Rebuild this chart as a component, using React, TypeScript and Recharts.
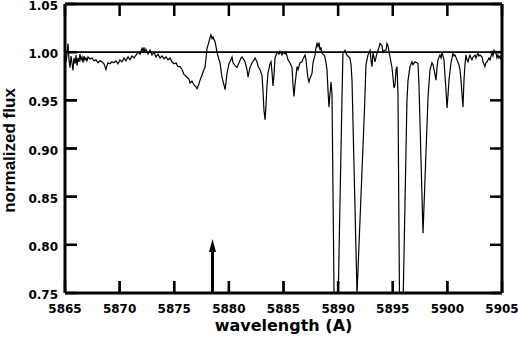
import React from 'react';
import { LineChart, Line, XAxis, YAxis, ReferenceLine, Label } from 'recharts';

const wavelength = [
  5865.00, 5865.09, 5865.18, 5865.27, 5865.37, 5865.46, 5865.55, 5865.64, 5865.73, 5865.82,
  5865.92, 5866.01, 5866.10, 5866.19, 5866.28, 5866.37, 5866.46, 5866.56, 5866.65, 5866.74,
  5866.83, 5866.92, 5867.01, 5867.11, 5867.29, 5867.47, 5867.65, 5867.84, 5868.02, 5868.20,
  5868.39, 5868.57, 5868.75, 5868.84, 5868.94, 5869.12, 5869.30, 5869.48, 5869.67, 5869.85,
  5870.03, 5870.22, 5870.40, 5870.58, 5870.77, 5870.95, 5871.13, 5871.32, 5871.50, 5871.68,
  5871.86, 5872.05, 5872.14, 5872.23, 5872.32, 5872.41, 5872.60, 5872.78, 5872.96, 5873.15,
  5873.33, 5873.51, 5873.70, 5873.88, 5874.06, 5874.24, 5874.43, 5874.61, 5874.79, 5874.98,
  5875.16, 5875.34, 5875.53, 5875.71, 5875.89, 5876.08, 5876.17, 5876.35, 5876.44, 5876.62,
  5876.81, 5876.99, 5877.08, 5877.26, 5877.36, 5877.54, 5877.72, 5877.81, 5877.91, 5878.00,
  5878.18, 5878.27, 5878.36, 5878.46, 5878.55, 5878.64, 5878.73, 5878.82, 5878.91, 5879.10,
  5879.19, 5879.37, 5879.55, 5879.65, 5879.74, 5879.83, 5880.01, 5880.19, 5880.29, 5880.38,
  5880.56, 5880.74, 5880.93, 5881.11, 5881.20, 5881.38, 5881.48, 5881.66, 5881.75, 5881.93,
  5882.12, 5882.30, 5882.39, 5882.57, 5882.67, 5882.85, 5883.03, 5883.12, 5883.21, 5883.31,
  5883.40, 5883.49, 5883.58, 5883.76, 5883.86, 5883.95, 5884.04, 5884.13, 5884.22, 5884.41,
  5884.59, 5884.68, 5884.86, 5884.95, 5885.14, 5885.23, 5885.41, 5885.59, 5885.78, 5885.87,
  5885.96, 5886.05, 5886.24, 5886.33, 5886.51, 5886.69, 5886.78, 5886.97, 5887.06, 5887.15,
  5887.24, 5887.33, 5887.43, 5887.61, 5887.70, 5887.88, 5887.97, 5888.07, 5888.16, 5888.25,
  5888.34, 5888.43, 5888.52, 5888.71, 5888.79, 5888.89, 5888.98, 5889.07, 5889.16, 5889.25,
  5889.35, 5889.44, 5889.76, 5890.35, 5890.44, 5890.63, 5890.81, 5891.08, 5891.18, 5891.27,
  5891.73, 5892.41, 5892.55, 5892.73, 5892.92, 5893.01, 5893.10, 5893.19, 5893.37, 5893.56,
  5893.74, 5893.83, 5894.01, 5894.11, 5894.20, 5894.38, 5894.47, 5894.56, 5894.75, 5894.93,
  5895.02, 5895.11, 5895.21, 5895.30, 5895.39, 5895.48, 5895.71, 5896.30, 5896.40, 5896.58,
  5896.76, 5896.85, 5897.04, 5897.22, 5897.31, 5897.40, 5897.77, 5898.23, 5898.41, 5898.59,
  5898.69, 5898.78, 5898.96, 5899.05, 5899.14, 5899.32, 5899.42, 5899.51, 5899.60, 5899.69,
  5899.78, 5899.87, 5899.97, 5900.06, 5900.15, 5900.33, 5900.51, 5900.61, 5900.70, 5900.88,
  5901.06, 5901.15, 5901.25, 5901.34, 5901.43, 5901.52, 5901.61, 5901.70, 5901.80, 5901.89,
  5901.98, 5902.07, 5902.16, 5902.25, 5902.35, 5902.53, 5902.62, 5902.80, 5902.89, 5902.99,
  5903.17, 5903.26, 5903.44, 5903.53, 5903.63, 5903.81, 5903.90, 5904.08, 5904.17, 5904.27,
  5904.36, 5904.45, 5904.54, 5904.63, 5904.72, 5904.82, 5904.91,
];

const flux = [
  0.995, 0.990, 0.997, 1.009, 0.992, 0.984, 0.996, 0.989, 0.981, 0.994,
  0.988, 0.997, 0.986, 0.994, 0.990, 0.998, 0.992, 0.995, 0.989, 0.996,
  0.992, 0.994, 0.991, 0.995, 0.993, 0.994, 0.991, 0.992, 0.989, 0.991,
  0.990, 0.988, 0.982, 0.986, 0.989, 0.988, 0.990, 0.989, 0.991, 0.988,
  0.992, 0.990, 0.994, 0.991, 0.995, 0.992, 0.996, 0.994, 0.997, 1.000,
  0.998, 1.004, 1.001, 1.005, 0.999, 1.003, 0.998, 1.002, 0.997, 1.000,
  0.995, 0.998, 0.994, 0.996, 0.993, 0.995, 0.992, 0.994, 0.990, 0.988,
  0.989, 0.985, 0.985, 0.982, 0.977, 0.975, 0.974, 0.972, 0.968, 0.970,
  0.966, 0.964, 0.962, 0.967, 0.971, 0.976, 0.982, 0.984, 0.994, 1.004,
  1.011, 1.015, 1.018, 1.014, 1.016, 1.013, 1.011, 1.006, 1.000, 0.992,
  0.989, 0.974, 0.966, 0.961, 0.969, 0.978, 0.988, 0.992, 0.995, 0.989,
  0.986, 0.984, 0.989, 0.994, 0.995, 0.992, 0.990, 0.982, 0.974, 0.984,
  0.989, 0.992, 0.994, 0.990, 0.985, 0.982, 0.976, 0.961, 0.940, 0.930,
  0.945, 0.966, 0.978, 0.988, 0.990, 0.979, 0.965, 0.976, 0.994, 1.000,
  0.998, 1.001, 0.997, 1.000, 0.998, 1.000, 0.992, 0.989, 0.984, 0.966,
  0.954, 0.966, 0.985, 0.982, 0.989, 0.990, 0.993, 0.997, 0.992, 0.982,
  0.973, 0.969, 0.973, 0.978, 0.989, 0.997, 1.004, 1.009, 1.006, 1.010,
  1.002, 1.005, 0.999, 0.997, 0.995, 0.989, 0.982, 0.961, 0.943, 0.956,
  0.969, 0.956, 0.600, 0.950, 0.999, 1.002, 0.997, 0.994, 0.987, 0.971,
  0.749, 0.940, 0.987, 0.997, 1.002, 0.992, 0.985, 1.000, 0.990, 0.999,
  1.005, 1.009, 1.007, 0.999, 1.002, 1.002, 1.009, 1.007, 0.995, 0.984,
  0.974, 0.963, 0.966, 0.982, 0.985, 0.956, 0.600, 0.950, 0.971, 0.985,
  0.990, 0.987, 0.990, 0.989, 0.988, 0.966, 0.812, 0.954, 0.982, 0.989,
  0.987, 0.982, 0.971, 0.984, 0.992, 0.997, 0.994, 1.000, 0.996, 0.992,
  0.976, 0.961, 0.942, 0.956, 0.971, 0.989, 0.999, 0.996, 0.997, 0.992,
  0.987, 0.982, 0.971, 0.956, 0.943, 0.971, 0.987, 0.997, 0.992, 0.990,
  0.994, 0.997, 0.994, 0.992, 0.995, 0.997, 0.994, 0.999, 0.996, 0.997,
  0.995, 0.990, 0.985, 0.989, 0.990, 0.994, 0.992, 0.999, 0.996, 1.002,
  1.000, 0.999, 0.994, 0.997, 0.994, 0.996, 0.992,
];

const xTicks = [5865, 5870, 5875, 5880, 5885, 5890, 5895, 5900, 5905];
const yTicks = [0.75, 0.8, 0.85, 0.9, 0.95, 1.0, 1.05];
const xDomain = [5865, 5905];
const yDomain = [0.75, 1.05];
const continuumLevel = 1.0;
const arrowWavelength = 5878.5;
const arrowBase = 0.75;
const arrowTip = 0.806;
const xTitle = 'wavelength (A)';
const yTitle = 'normalized flux';

const data = wavelength.map((wl, i) => ({ wl, flux: flux[i] }));

const TICK_FONT = { fontFamily: '"DejaVu Sans", sans-serif', fontWeight: 700, fontSize: 12, fill: '#000' };
const TICK_LEN = 12;
const TICK_W = 2.5;

const BottomTick = (p: any) => (
  <text x={p.x} y={p.y + TICK_LEN + 20} textAnchor="middle" style={TICK_FONT}>{p.payload.value}</text>
);
const LeftTick = (p: any) => (
  <text x={p.x - TICK_LEN - 7} y={p.y + 6} textAnchor="end" style={TICK_FONT}>{Number(p.payload.value).toFixed(2)}</text>
);

// Inward tick marks as filled rectangles at both ends of each tick position
const XTickMarks = (p: any) => {
  const x = p.x1;
  const top = Math.min(p.y1, p.y2);
  const bottom = Math.max(p.y1, p.y2);
  return (
    <g>
      <rect x={x - TICK_W / 2} y={bottom - TICK_LEN} width={TICK_W} height={TICK_LEN} fill="#000" />
      <rect x={x - TICK_W / 2} y={top} width={TICK_W} height={TICK_LEN} fill="#000" />
    </g>
  );
};
const YTickMarks = (p: any) => {
  const y = p.y1;
  const left = Math.min(p.x1, p.x2);
  const right = Math.max(p.x1, p.x2);
  return (
    <g>
      <rect x={left} y={y - TICK_W / 2} width={TICK_LEN} height={TICK_W} fill="#000" />
      <rect x={right - TICK_LEN} y={y - TICK_W / 2} width={TICK_LEN} height={TICK_W} fill="#000" />
    </g>
  );
};

const ArrowShape = (p: any) => {
  const x = p.x1;
  const top = Math.min(p.y1, p.y2);
  const bottom = Math.max(p.y1, p.y2);
  return (
    <g>
      <line x1={x} y1={bottom} x2={x} y2={top + 8} stroke="#000" strokeWidth={3} />
      <polygon points={`${x},${top} ${x - 3.5},${top + 13} ${x + 3.5},${top + 13}`} fill="#000" />
    </g>
  );
};

const XTitle = (p: any) => {
  const vb = p.viewBox;
  return (
    <text x={vb.x + vb.width / 2} y={vb.y + 38} textAnchor="middle"
      style={{ fontFamily: '"DejaVu Sans", sans-serif', fontWeight: 700, fontSize: 16, fill: '#000' }}>
      {xTitle}
    </text>
  );
};
const YTitle = (p: any) => {
  const vb = p.viewBox;
  const cx = 15;
  const cy = vb.y + vb.height / 2 + 2;
  return (
    <text x={cx} y={cy} textAnchor="middle" transform={`rotate(-90, ${cx}, ${cy})`}
      style={{ fontFamily: '"Liberation Sans", Arial, sans-serif', fontWeight: 700, fontSize: 17, fill: '#000' }}>
      {yTitle}
    </text>
  );
};

const axisLineStyle = { stroke: '#000', strokeWidth: 3 };
const tickLineStyle = { stroke: '#000', strokeWidth: 2 };

export default function App() {
  return (
    <div style={{ position: 'absolute', left: 0, top: 0, width: 518, height: 347, background: '#fff' }}>
      <LineChart width={518} height={347} data={data} margin={{ top: 0, right: 0, bottom: 0, left: 0 }}>
        <XAxis xAxisId="b" type="number" dataKey="wl" domain={xDomain} ticks={xTicks} allowDataOverflow
          orientation="bottom" height={54} tickSize={-TICK_LEN} tickMargin={0} tickLine={tickLineStyle} tick={BottomTick}
          axisLine={axisLineStyle} interval={0}>
          <Label content={XTitle} />
        </XAxis>
        <XAxis xAxisId="t" type="number" dataKey="wl" domain={xDomain} ticks={xTicks} allowDataOverflow
          orientation="top" height={4} tickSize={-TICK_LEN} tickMargin={0} tickLine={tickLineStyle} tick={false}
          axisLine={axisLineStyle} interval={0} />
        <YAxis yAxisId="l" type="number" domain={yDomain} ticks={yTicks} allowDataOverflow
          orientation="left" width={65} tickSize={-TICK_LEN} tickMargin={0} tickLine={tickLineStyle} tick={LeftTick}
          axisLine={axisLineStyle} interval={0}>
          <Label content={YTitle} />
        </YAxis>
        <YAxis yAxisId="r" type="number" domain={yDomain} ticks={yTicks} allowDataOverflow
          orientation="right" width={16} tickSize={-TICK_LEN} tickMargin={0} tickLine={tickLineStyle} tick={false}
          axisLine={axisLineStyle} interval={0} />
        <ReferenceLine xAxisId="b" yAxisId="l" y={continuumLevel} stroke="#000" strokeWidth={1.6} />
        <Line xAxisId="b" yAxisId="l" type="linear" dataKey="flux" stroke="#000" strokeWidth={1.2}
          dot={false} activeDot={false} isAnimationActive={false} />
        <ReferenceLine xAxisId="b" yAxisId="l"
          segment={[{ x: arrowWavelength, y: arrowBase }, { x: arrowWavelength, y: arrowTip }]}
          shape={ArrowShape} />
        {xTicks.map((t) => (
          <ReferenceLine key={`xt${t}`} xAxisId="b" yAxisId="l" x={t} shape={XTickMarks} ifOverflow="visible" />
        ))}
        {yTicks.map((t) => (
          <ReferenceLine key={`yt${t}`} xAxisId="b" yAxisId="l" y={t} shape={YTickMarks} ifOverflow="visible" />
        ))}
      </LineChart>
    </div>
  );
}
